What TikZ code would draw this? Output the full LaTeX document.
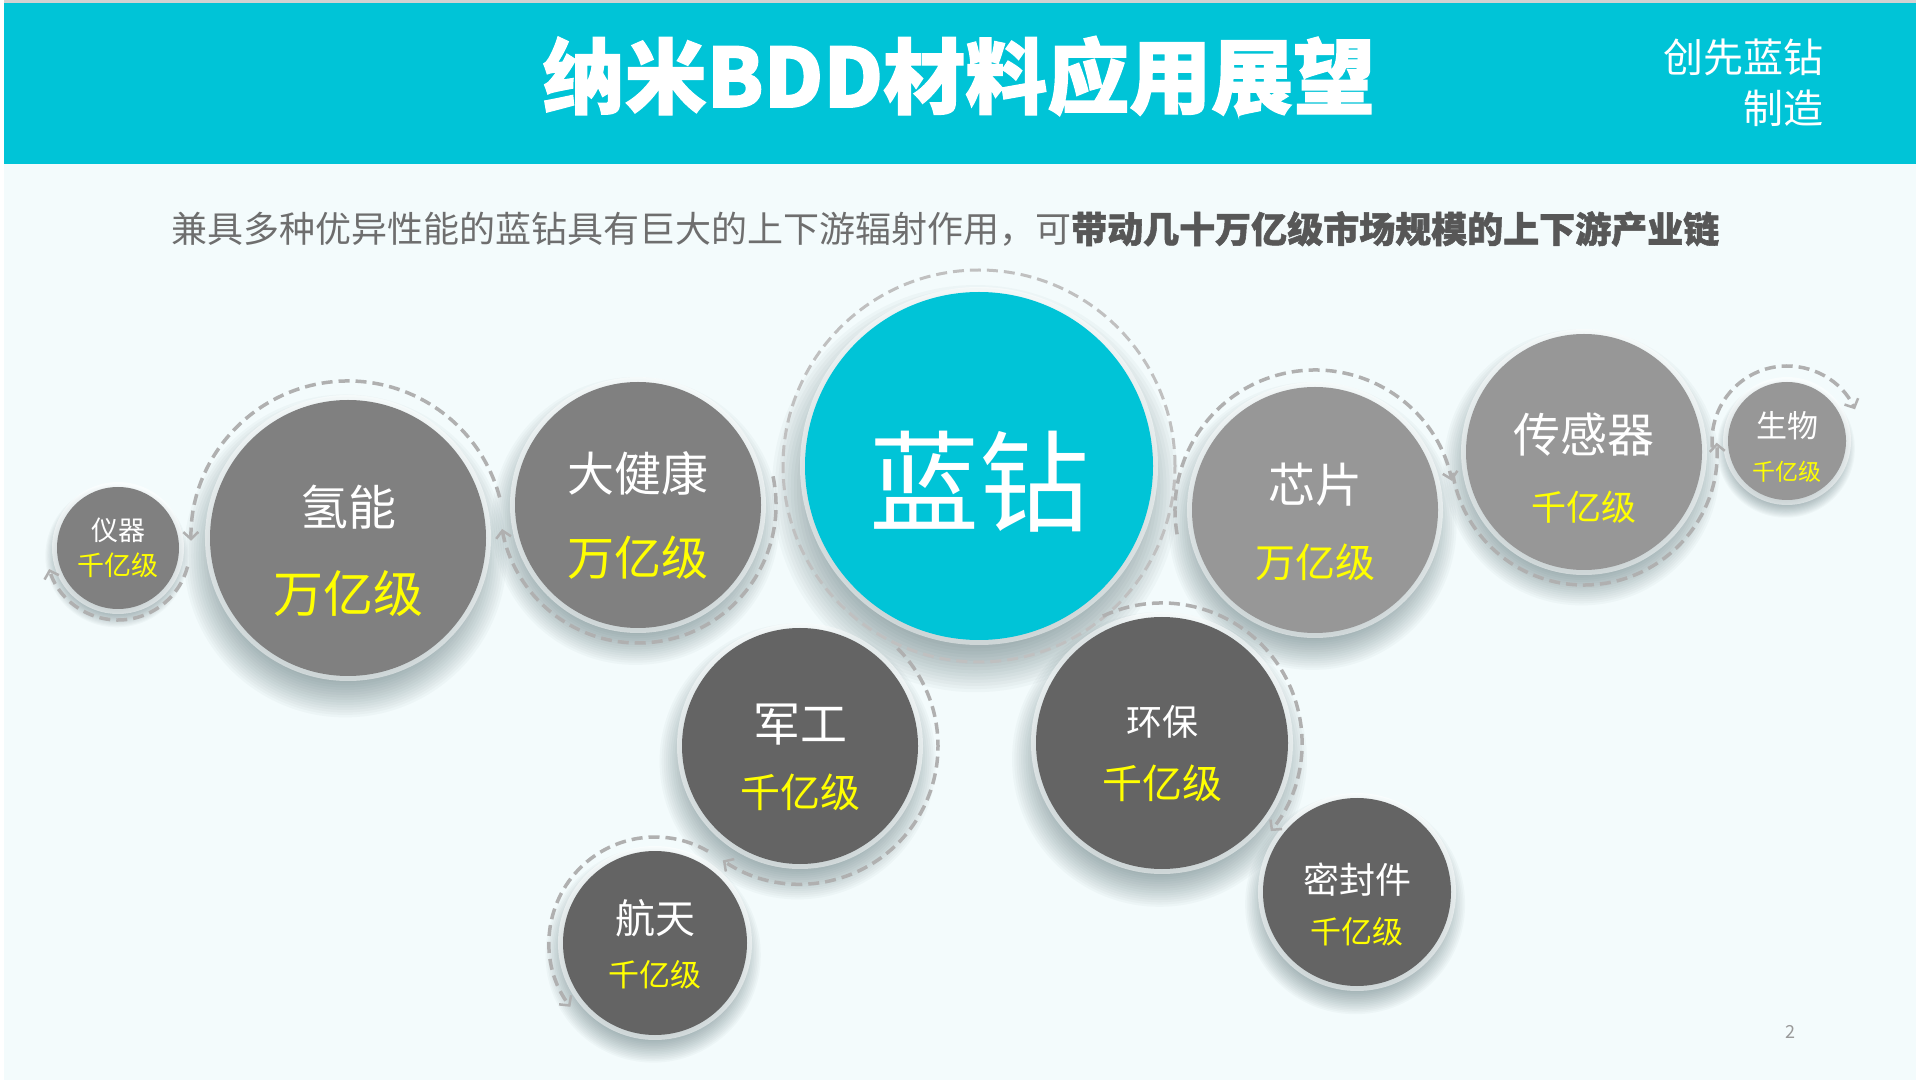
\documentclass[tikz,border=0pt]{standalone}
\usepackage{fontspec}
\setmainfont{Noto Sans CJK SC}[BoldFeatures={FakeBold=1.5}]
\usetikzlibrary{arrows.meta,calc}
\definecolor{bgc}{HTML}{F3FBFC}
\definecolor{tealc}{HTML}{00C4D7}
\definecolor{gmid}{HTML}{808080}
\definecolor{glight}{HTML}{979797}
\definecolor{gdark}{HTML}{646464}
\definecolor{ringc}{HTML}{B0B0B0}
\definecolor{subgray}{HTML}{6E6E6E}
\definecolor{subdark}{HTML}{575757}
\definecolor{ylw}{HTML}{FFFF00}
\definecolor{shc}{HTML}{2E4A50}
\newcommand\fs[1]{\fontsize{#1}{#1}\selectfont}
\tikzset{
  ball/.style={circle,inner sep=0pt,outer sep=0pt,minimum size=#1},
  wtxt/.style={text=white,inner sep=0pt},
  ytxt/.style={text=ylw,inner sep=0pt},
  ringline/.style={draw=ringc,line width=3.5pt,dash pattern=on 11pt off 6pt,
    -{Straight Barb[length=7pt,width=15pt,line width=2.5pt]}},
  bigring/.style={draw=ringc!80,line width=3pt,dash pattern=on 11pt off 6pt},
  shadlayer/.style={fill=shc,opacity=0.03}
}
\newcommand\shadowat[3]{%
  \foreach \k in {0,...,15}{\fill[shadlayer] ({#1-0.02*#3},{#2-0.13*#3}) circle ({#3*(0.9+0.018*\k)});}%
  \fill[white,opacity=0.5] (#1,#2) circle ({#3+5});}
\begin{document}
\begin{tikzpicture}[x=1pt,y=1pt]
\useasboundingbox (0,0) rectangle (1920,1080);
\fill[white] (0,0) rectangle (1920,1080);
\fill[bgc] (4,0) rectangle (1916,916);
\fill[tealc] (4,916) rectangle (1916,1077);
\fill[gray!35] (4,1077) rectangle (1916,1080);

% header texts
\node[text=white,font=\fs{82}\bfseries,inner sep=0pt] (title) at (959,1004) {纳米BDD材料应用展望};
\node[text=white,font=\fs{40},inner sep=0pt,anchor=east] (brand1) at (1824,1023) {创先蓝钻};
\node[text=white,font=\fs{40},inner sep=0pt,anchor=east] (brand2) at (1824,972) {制造};

% subtitle
\node[anchor=west,inner sep=0pt,font=\fs{36}] (sub) at (171,851)
  {\textcolor{subgray}{兼具多种优异性能的蓝钻具有巨大的上下游辐射作用，可}\textcolor{subdark}{\bfseries 带动几十万亿级市场规模的上下游产业链}};

% shadows
\shadowat{118}{532}{61}
\shadowat{348}{542}{138}
\shadowat{638}{575}{123}
\shadowat{979}{614}{174}
\shadowat{1315}{570}{123}
\shadowat{1584}{628}{118}
\shadowat{1787}{639}{59}
\shadowat{800}{334}{118}
\shadowat{1162}{337}{126}
\shadowat{655}{137}{92}
\shadowat{1357}{188}{94}

% circles
\node[ball=122pt,fill=gmid] (yq) at (118,532) {};
\node[ball=276pt,fill=gmid] (qn) at (348,542) {};
\node[ball=246pt,fill=gmid] (djk) at (638,575) {};
\node[ball=348pt,fill=tealc] (lz) at (979,614) {};
\node[ball=246pt,fill=glight] (xp) at (1315,570) {};
\node[ball=236pt,fill=glight] (cgq) at (1584,628) {};
\node[ball=118pt,fill=glight] (sw) at (1787,639) {};
\node[ball=236pt,fill=gdark] (jg) at (800,334) {};
\node[ball=252pt,fill=gdark] (hb) at (1162,337) {};
\node[ball=184pt,fill=gdark] (ht) at (655,137) {};
\node[ball=188pt,fill=gdark] (mfj) at (1357,188) {};

% dashed rings
\draw[bigring] (lz) circle (196);
\draw[ringline] ($(yq)+(-15:72)$) arc[start angle=-15,end angle=-163,radius=72];
\draw[ringline] ($(qn)+(15:157)$) arc[start angle=15,end angle=181,radius=157];
\draw[ringline] ($(djk)+(12:138)$) arc[start angle=12,end angle=-170,radius=138];
\draw[ringline] ($(xp)+(190:140)$) arc[start angle=190,end angle=12,radius=140];
\draw[ringline] ($(cgq)+(-171:133)$) arc[start angle=-171,end angle=4,radius=133];
\draw[ringline] ($(sw)+(185:75)$) arc[start angle=185,end angle=25,radius=75];
\draw[ringline] ($(jg)+(45:138)$) arc[start angle=45,end angle=-124,radius=138];
\draw[ringline] ($(ht)+(60:106)$) arc[start angle=60,end angle=217,radius=106];
\draw[ringline] ($(hb)+(115:140)$) arc[start angle=115,end angle=-39,radius=140];

% labels
\node[wtxt,font=\fs{27}] (yq-a) at (118,550) {仪器};
\node[ytxt,font=\fs{27}] (yq-b) at (118,515) {千亿级};
\node[wtxt,font=\fs{48}] (qn-a) at (348,573) {氢能};
\node[ytxt,font=\fs{50}] (qn-b) at (348,486) {万亿级};
\node[wtxt,font=\fs{47}] (djk-a) at (638,607) {大健康};
\node[ytxt,font=\fs{47}] (djk-b) at (638,522) {万亿级};
\node[wtxt,font=\fs{110}] (lz-a) at (979,598) {蓝钻};
\node[wtxt,font=\fs{47}] (xp-a) at (1315,595) {芯片};
\node[ytxt,font=\fs{40}] (xp-b) at (1315,518) {万亿级};
\node[wtxt,font=\fs{47}] (cgq-a) at (1584,645) {传感器};
\node[ytxt,font=\fs{35}] (cgq-b) at (1584,573) {千亿级};
\node[wtxt,font=\fs{31}] (sw-a) at (1787,654) {生物};
\node[ytxt,font=\fs{23}] (sw-b) at (1787,608) {千亿级};
\node[wtxt,font=\fs{47}] (jg-a) at (800,355) {军工};
\node[ytxt,font=\fs{40}] (jg-b) at (800,288) {千亿级};
\node[wtxt,font=\fs{36}] (hb-a) at (1162,358) {环保};
\node[ytxt,font=\fs{40}] (hb-b) at (1162,297) {千亿级};
\node[wtxt,font=\fs{40}] (ht-a) at (655,162) {航天};
\node[ytxt,font=\fs{31}] (ht-b) at (655,105) {千亿级};
\node[wtxt,font=\fs{36}] (mfj-a) at (1357,200) {密封件};
\node[ytxt,font=\fs{31}] (mfj-b) at (1357,148) {千亿级};

\node[text=gray!80,font=\fs{18},inner sep=0pt] (pg) at (1790,48) {2};
\end{tikzpicture}
\end{document}
